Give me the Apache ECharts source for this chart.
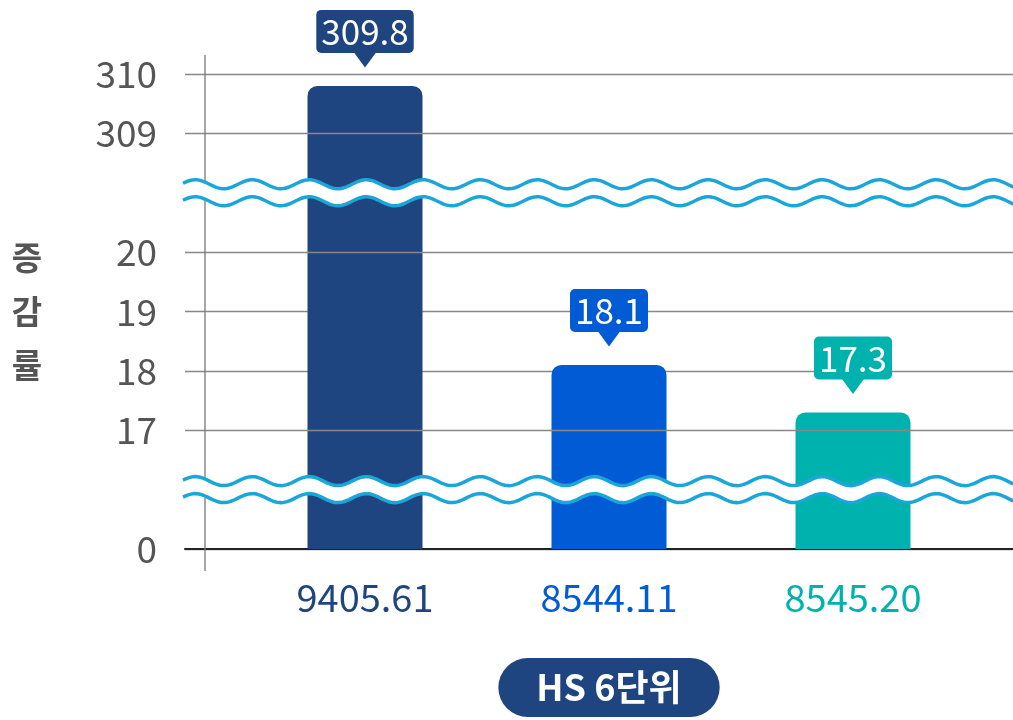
<!DOCTYPE html>
<html>
<head>
<meta charset="utf-8">
<script src="https://cdn.jsdelivr.net/npm/echarts@6/dist/echarts.min.js"></script>
<style>html,body{margin:0;padding:0;background:#fff;}#c{width:1013px;height:720px;}</style>
</head>
<body>
<div id="c"></div>
<script>
const categories = ['9405.61', '8544.11', '8545.20'];
const values = [309.8, 18.1, 17.3];
const barColors = ['#1f4580', '#005bd5', '#00b2ad'];
const yTickLabels = [0, 17, 18, 19, 20, 309, 310];
const yBreaks = [
  { start: 0, end: 17, gap: 2 },
  { start: 20, end: 309, gap: 2 }
];
const yTitle = '증감률';
const xTitle = 'HS 6단위';

const FONT = "'Noto Sans CJK KR', 'Noto Sans', sans-serif";
const chart = echarts.init(document.getElementById('c'), null, { renderer: 'canvas' });

function yAxisBase() {
  return {
    type: 'value', min: 0, max: 310, interval: 1,
    breaks: yBreaks.map(b => Object.assign({ isExpanded: false }, b)),
    breakArea: { show: false, expandOnClick: false }
  };
}

// break-boundary ticks (17, 20, 309) get gridlines via markLine on a carrier series
const boundaryTicks = yTickLabels.filter(v => v > 0 && yBreaks.some(b => b.start === v || b.end === v));

const option = {
  animation: false,
  backgroundColor: '#fff',
  grid: [
    { left: 185, right: 0, top: 74, bottom: 171, outerBoundsMode: 'none', containLabel: false },
    { left: 243, right: 38, top: 74, bottom: 171, outerBoundsMode: 'none', containLabel: false }
  ],
  xAxis: [
    {
      gridIndex: 0, type: 'category', data: categories,
      axisLine: { show: true, lineStyle: { color: '#222', width: 2 } },
      axisTick: { show: false }, axisLabel: { show: false }, splitLine: { show: false }
    },
    {
      gridIndex: 1, type: 'category',
      data: categories.map((c, i) => ({ value: c, textStyle: { color: barColors[i] } })),
      axisLine: { show: false }, axisTick: { show: false },
      axisLabel: { fontSize: 38, fontFamily: FONT, margin: 30 },
      name: xTitle, nameLocation: 'middle', nameGap: 109,
      nameTextStyle: {
        color: '#fff', fontSize: 36, fontWeight: 'bold', fontFamily: FONT,
        backgroundColor: '#1f4580', borderRadius: 30, padding: [9, 38, 9, 38], lineHeight: 41
      }
    }
  ],
  yAxis: [
    Object.assign(yAxisBase(), {
      gridIndex: 0,
      axisLine: { show: false }, axisTick: { show: false },
      axisLabel: {
        fontSize: 37, color: '#555', fontFamily: FONT, margin: 28,
        formatter: v => (yTickLabels.indexOf(v) >= 0 ? String(v) : '')
      },
      splitLine: { show: true, lineStyle: { color: '#888', width: 1.3 } },
      name: yTitle.split('').join('\n'), nameLocation: 'middle', nameRotate: 0, nameGap: 143,
      nameTextStyle: { fontSize: 33, fontWeight: 'bold', color: '#555', fontFamily: FONT, lineHeight: 54 }
    }),
    Object.assign(yAxisBase(), {
      gridIndex: 1,
      axisLine: { show: false }, axisTick: { show: false }, axisLabel: { show: false },
      splitLine: { show: false }
    })
  ],
  series: [
    {
      type: 'line', xAxisIndex: 0, yAxisIndex: 0, data: [], silent: true, z: 0,
      markLine: {
        silent: true, symbol: 'none', label: { show: false }, animation: false,
        lineStyle: { color: '#888', width: 1.3, type: 'solid' },
        emphasis: { disabled: true },
        data: boundaryTicks.map(v => ({ yAxis: v }))
      }
    },
    {
      type: 'bar', xAxisIndex: 1, yAxisIndex: 1, barWidth: 115,
      data: values.map((v, i) => ({
        value: v,
        itemStyle: { color: barColors[i] },
        label: { backgroundColor: barColors[i] }
      })),
      itemStyle: { borderRadius: [10, 10, 0, 0] },
      label: {
        show: true, position: 'top', distance: 33, color: '#fff', fontSize: 35,
        fontFamily: FONT, padding: [3, 5, 2, 5], borderRadius: 5, lineHeight: 38
      },
      z: 2
    },
    {
      type: 'scatter', xAxisIndex: 1, yAxisIndex: 1,
      symbol: 'triangle', symbolRotate: 180, symbolSize: [22, 15], symbolOffset: [0, -26],
      itemStyle: { opacity: 1 },
      data: values.map((v, i) => ({ value: v, itemStyle: { color: barColors[i], opacity: 1 } })),
      silent: true, z: 3
    }
  ]
};
chart.setOption(option);

// decorative axis line and wavy break markers
function wavePoints(x0, x1, yc, amp, period, phase) {
  const pts = [];
  for (let x = x0; x <= x1; x += 2) {
    pts.push([x, yc - amp * Math.sin((x - phase) / period * 2 * Math.PI)]);
  }
  return pts;
}
const graphics = [];
yBreaks.forEach(b => {
  const ya = chart.convertToPixel({ yAxisIndex: 0 }, b.start);
  const yb = chart.convertToPixel({ yAxisIndex: 0 }, b.end);
  const yc = (ya + yb) / 2;
  const up = wavePoints(183, 1015, yc - 8.5, 4.5, 57, 181);
  const lo = wavePoints(183, 1015, yc + 8.5, 4.5, 57, 181);
  graphics.push({ type: 'polygon', z: 100, silent: true, shape: { points: up.concat(lo.slice().reverse()) }, style: { fill: '#fff' } });
  graphics.push({ type: 'polyline', z: 101, silent: true, shape: { points: up }, style: { stroke: '#1aa6d9', lineWidth: 3.5, fill: null } });
  graphics.push({ type: 'polyline', z: 101, silent: true, shape: { points: lo }, style: { stroke: '#1aa6d9', lineWidth: 3.5, fill: null } });
});
graphics.unshift({ type: 'line', z: 50, silent: true, shape: { x1: 205, y1: 55, x2: 205, y2: 571 }, style: { stroke: '#777', lineWidth: 1.3 } });
chart.setOption({ graphic: graphics });
</script>
</body>
</html>
